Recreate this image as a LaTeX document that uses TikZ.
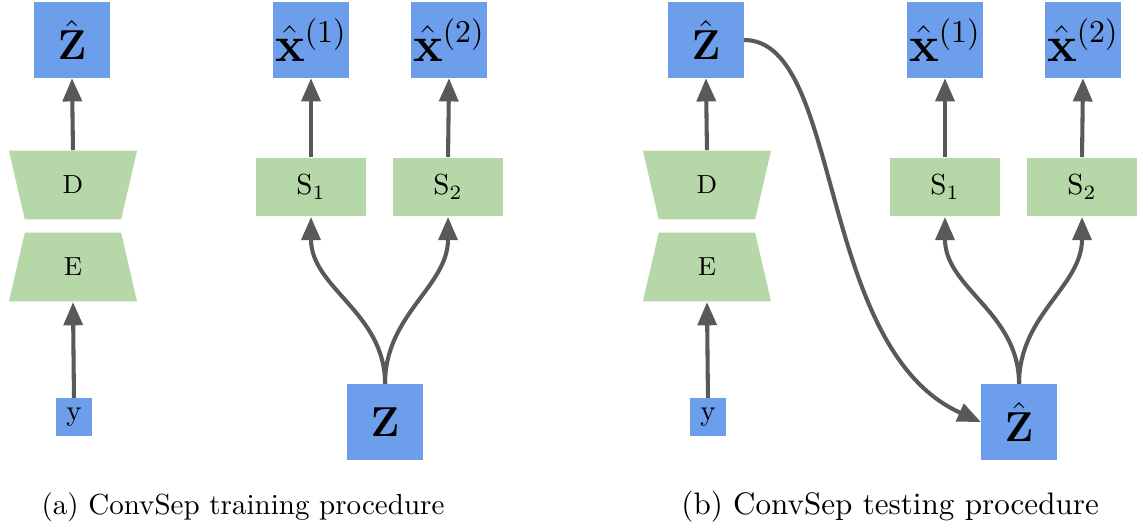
\documentclass[tikz,border=0pt]{standalone}
\usepackage{amsmath, amssymb}
\usetikzlibrary{shapes.geometric, positioning, arrows.meta}
\definecolor{csBlue}{RGB}{109,158,235}
\definecolor{csGreen}{RGB}{182,215,168}
\definecolor{csGrey}{RGB}{89,89,89}

\begin{document}
\begin{tikzpicture}[
    var/.style={fill=csBlue, minimum width=0.91cm, minimum height=0.91cm, inner sep=0pt,
      font=\fontsize{14}{16}\selectfont},
    big/.style={font=\fontsize{16}{18}\selectfont},
    obs/.style={fill=csBlue, minimum width=0.44cm, minimum height=0.45cm, inner sep=0pt},
    sepnet/.style={fill=csGreen, minimum width=1.32cm, minimum height=0.71cm, inner sep=0pt},
    coder/.style={trapezium, trapezium stretches body, fill=csGreen, minimum width=1.55cm,
      text height=6pt, text depth=0pt, inner xsep=0pt, inner ysep=8.85pt, font=\small},
    flow/.style={-{Triangle[length=8pt, width=6.5pt]}, line width=1.4pt, csGrey},
    node distance=0.145cm
  ]
  \useasboundingbox (0,0) rectangle (13.842,6.401);

  % (a) training
  \node[var] (zhatA) at (0.871,5.917) {$\hat{\mathbf{Z}}$};
  \node[coder, trapezium angle=103] (dA) at (0.883,4.162) {D};
  \node[coder, trapezium angle=77, below=of dA] (eA) {E};
  \node[obs] (yA) at (0.895,1.355) {y};
  \node[var, big] (xA1) at (3.763,5.917) {$\hat{\mathbf{x}}^{(1)}$};
  \node[var, big] (xA2) at (5.433,5.917) {$\hat{\mathbf{x}}^{(2)}$};
  \node[sepnet] (sA1) at (3.763,4.138) {$\mathrm{S}_1$};
  \node[sepnet] (sA2) at (5.421,4.138) {$\mathrm{S}_2$};
  \node[var] (zA) at (4.659,1.295) {$\mathbf{Z}$};

  \draw[flow] (dA.north) -- (zhatA.south);
  \draw[flow] (yA.north) -- (eA.south);
  \draw[flow] (sA1.north) -- (xA1.south);
  \draw[flow] (sA2.north) -- (xA2.south);
  \draw[flow] (zA.north) to[out=90, in=-90] (sA1.south);
  \draw[flow] (zA.north) to[out=90, in=-90] (sA2.south);

  % (b) testing
  \node[var] (zhatB) at (8.542,5.917) {$\hat{\mathbf{Z}}$};
  \node[coder, trapezium angle=103] (dB) at (8.554,4.162) {D};
  \node[coder, trapezium angle=77, below=of dB] (eB) {E};
  \node[obs] (yB) at (8.566,1.355) {y};
  \node[var, big] (xB1) at (11.434,5.917) {$\hat{\mathbf{x}}^{(1)}$};
  \node[var, big] (xB2) at (13.104,5.917) {$\hat{\mathbf{x}}^{(2)}$};
  \node[sepnet] (sB1) at (11.434,4.138) {$\mathrm{S}_1$};
  \node[sepnet] (sB2) at (13.092,4.138) {$\mathrm{S}_2$};
  \node[var] (zhatC) at (12.330,1.295) {$\hat{\mathbf{Z}}$};

  \draw[flow] (dB.north) -- (zhatB.south);
  \draw[flow] (yB.north) -- (eB.south);
  \draw[flow] (sB1.north) -- (xB1.south);
  \draw[flow] (sB2.north) -- (xB2.south);
  \draw[flow] (zhatC.north) to[out=90, in=-90] (sB1.south);
  \draw[flow] (zhatC.north) to[out=90, in=-90] (sB2.south);
  \draw[flow] (zhatB.east) .. controls +(1.2,0) and +(-2.0,0.9) .. (zhatC.west);

  % captions
  \node (capA) at (2.94,0.266) {(a) ConvSep training procedure};
  \node[font=\fontsize{10.7}{12}\selectfont] (capB) at (10.77,0.266) {(b) ConvSep testing procedure};
\end{tikzpicture}
\end{document}
